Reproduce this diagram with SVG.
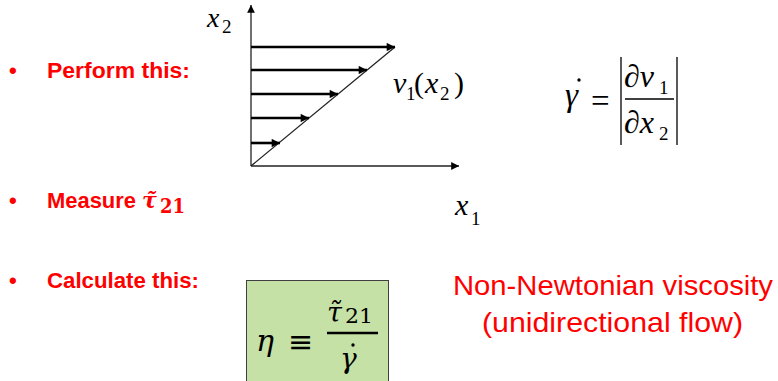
<svg xmlns="http://www.w3.org/2000/svg" width="778" height="381" viewBox="0 0 778 381">
<style>
.b{font-family:"Liberation Sans",Arial,sans-serif;font-weight:bold;fill:#ff0000;font-size:22px}
.r{font-family:"Liberation Sans",Arial,sans-serif;fill:#ff0000;font-size:28px}
.m{font-family:"Liberation Serif","Times New Roman",serif;font-style:italic;fill:#000;font-size:30px}
.mu{font-family:"Liberation Serif","Times New Roman",serif;fill:#000;font-size:30px}
.s{font-family:"Liberation Serif","Times New Roman",serif;fill:#000;font-size:19px}
.ax{stroke:#222;stroke-width:1.3;fill:none}
.ar{stroke:#000;stroke-width:2.6;fill:none}
.cm{font-family:"DejaVu Serif","Liberation Serif",serif;fill:#000}
</style>
<defs>
<marker id="ah" viewBox="0 0 10 10" refX="10" refY="5" markerWidth="4.2" markerHeight="3.2" markerUnits="strokeWidth" orient="auto">
<path d="M0,0 L10,5 L0,10 z" fill="#000"/>
</marker>
<marker id="ah2" viewBox="0 0 10 10" refX="10" refY="5" markerWidth="7.5" markerHeight="6" markerUnits="strokeWidth" orient="auto">
<path d="M0,0 L10,5 L0,10 z" fill="#000"/>
</marker>
</defs>

<g id="bullets">
<text class="b" x="9" y="78">•</text>
<text class="b" x="47" y="78" textLength="143" lengthAdjust="spacingAndGlyphs">Perform this:</text>
<text class="b" x="9" y="208">•</text>
<text class="b" x="47" y="208" textLength="89" lengthAdjust="spacingAndGlyphs">Measure</text>
<text x="142" y="208" class="cm" style="font-style:italic;font-weight:bold;fill:#ff0000;font-size:22px">τ̃</text>
<text x="160" y="213" class="cm" style="font-weight:bold;fill:#ff0000;font-size:20px" textLength="25" lengthAdjust="spacingAndGlyphs">21</text>
<text class="b" x="9" y="288">•</text>
<text class="b" x="47" y="288" textLength="152" lengthAdjust="spacingAndGlyphs">Calculate this:</text>
</g>

<g id="plot">
<g id="connectors">
<line class="ax" x1="251" y1="166" x2="251" y2="5" marker-end="url(#ah2)"/>
<line class="ax" x1="251" y1="166" x2="459" y2="166" marker-end="url(#ah2)"/>
<line class="ax" x1="251" y1="166" x2="395" y2="47"/>
<line class="ar" x1="251" y1="47" x2="395" y2="47" marker-end="url(#ah)"/>
<line class="ar" x1="251" y1="70" x2="367" y2="70" marker-end="url(#ah)"/>
<line class="ar" x1="251" y1="94" x2="338" y2="94" marker-end="url(#ah)"/>
<line class="ar" x1="251" y1="118" x2="309" y2="118" marker-end="url(#ah)"/>
<line class="ar" x1="251" y1="143" x2="280" y2="143" marker-end="url(#ah)"/>
</g>
<text class="m" x="207" y="27" style="font-size:28px">x</text><text class="s" x="222" y="33">2</text>
<text class="m" x="455" y="215">x</text><text class="s" x="471" y="225">1</text>
<text class="m" x="393" y="93">v</text><text class="s" x="406" y="100">1</text>
<text class="mu" x="414" y="93">(</text><text class="m" x="425" y="93">x</text><text class="s" x="440" y="100">2</text><text class="mu" x="454" y="93">)</text>
</g>

<g id="gamma-def">
<text class="m" x="565" y="106" style="font-size:33px">γ</text>
<circle cx="579" cy="80" r="1.7" fill="#000"/>
<text class="mu" x="591" y="112" style="font-size:33px">=</text>
<line x1="621" y1="57" x2="621" y2="145" stroke="#000" stroke-width="1.3"/>
<line x1="677" y1="57" x2="677" y2="145" stroke="#000" stroke-width="1.3"/>
<line x1="625" y1="99" x2="674" y2="99" stroke="#000" stroke-width="1.3"/>
<text class="m" x="624" y="87" style="font-size:32px">∂v</text><text class="s" x="659" y="94">1</text>
<text class="m" x="624" y="133" style="font-size:32px">∂x</text><text class="s" x="659" y="140">2</text>
</g>

<g id="eta-box">
<rect x="246.5" y="280.5" width="142" height="110" fill="#c5e1a5" stroke="#404040" stroke-width="1"/>
<text x="256" y="351" class="cm" style="font-style:italic;font-size:30px">η</text>
<text x="288" y="352" style="font-family:'DejaVu Sans','Liberation Sans',sans-serif;fill:#000;font-size:30px">≡</text>
<line x1="327" y1="333" x2="378" y2="333" stroke="#000" stroke-width="2.4"/>
<text x="327" y="322" class="cm" style="font-style:italic;font-size:27px">τ̃</text>
<text x="345" y="323" class="cm" style="font-size:21px" textLength="28" lengthAdjust="spacingAndGlyphs">21</text>
<text x="340" y="368" class="cm" style="font-style:italic;font-size:28px">γ</text>
<circle cx="353" cy="345" r="1.7" fill="#000"/>
</g>

<g id="note">
<text class="r" x="453" y="295" textLength="320" lengthAdjust="spacingAndGlyphs">Non-Newtonian viscosity</text>
<text class="r" x="482" y="332" textLength="261" lengthAdjust="spacingAndGlyphs">(unidirectional flow)</text>
</g>
</svg>
